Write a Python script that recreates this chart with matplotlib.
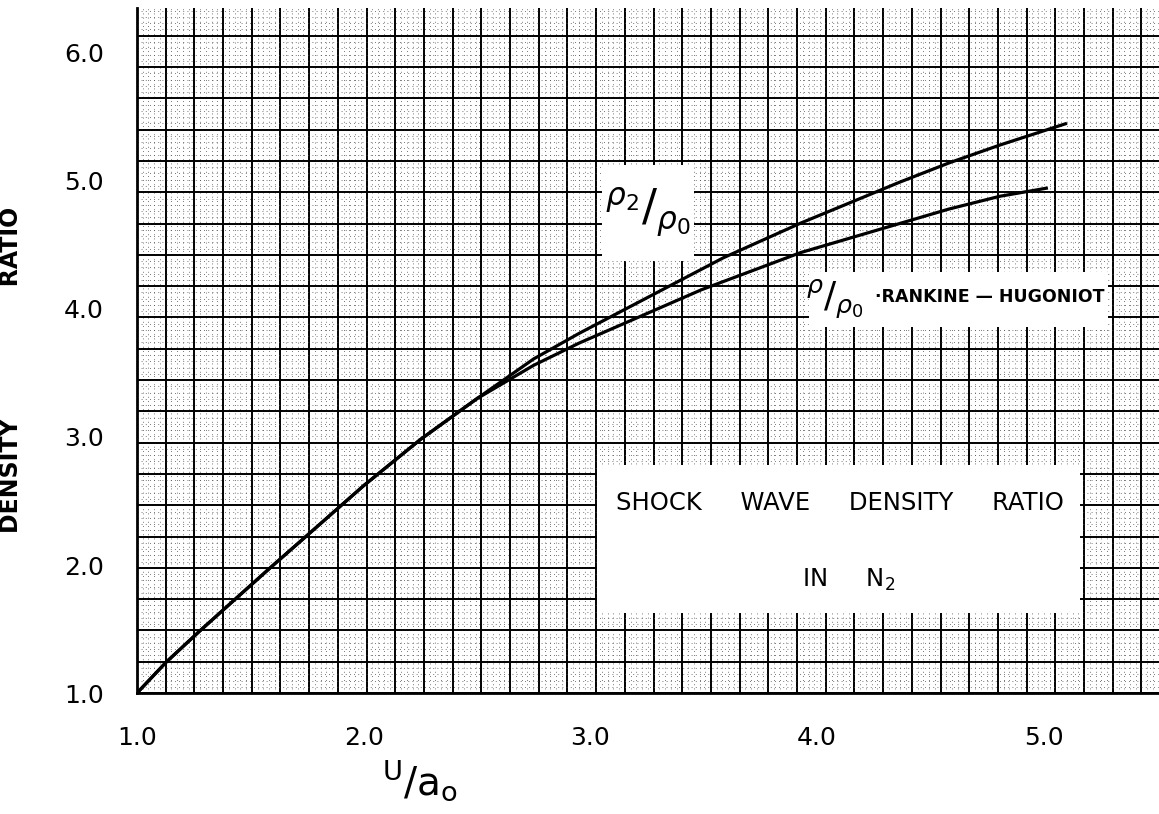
import numpy as np
import matplotlib
matplotlib.use("Agg")
import matplotlib.pyplot as plt
from matplotlib.patches import Rectangle

# values (U/a0 vs density ratio)
common_x = [1.0, 1.128, 1.274, 1.428, 1.592, 1.724, 2.0, 2.25, 2.5]
common_y = [1.0, 1.24, 1.48, 1.725, 1.985, 2.19, 2.62, 2.98, 3.30]

shock_x = [2.75, 2.951, 3.587, 3.927, 4.364, 4.581, 4.806, 5.102]
shock_y = [3.61, 3.81, 4.40, 4.67, 4.99, 5.14, 5.28, 5.45]

rh_x = [2.75, 2.951, 3.490, 3.927, 4.581, 4.806, 5.018]
rh_y = [3.56, 3.734, 4.15, 4.44, 4.78, 4.88, 4.945]

x_ticks = [1.0, 2.0, 3.0, 4.0, 5.0]
y_ticks = [1.0, 2.0, 3.0, 4.0, 5.0, 6.0]

plt.rcParams['font.family'] = ['DejaVu Sans']

fig = plt.figure(figsize=(11.59, 8.14), dpi=100)
rect = [0.1182, 0.1486, 0.8818, 0.8415]

# graph paper underneath, in pixel units of the plot area
paper = fig.add_axes(rect, zorder=0)
pw, ph = 1022, 685
paper.set_xlim(0, pw)
paper.set_ylim(0, ph)
cx, cy = 28.7, 31.3
paper.set_xticks(np.arange(0, pw, cx))
paper.set_yticks(np.arange(0, ph, cy))
paper.set_xticks(np.arange(0, pw, cx / 5), minor=True)
paper.set_yticks(np.arange(0, ph, cy / 5), minor=True)
paper.grid(which='major', color='black', lw=1.4)
paper.grid(which='minor', color='0.3', lw=0.6, ls=(0, (1, 4)))
paper.tick_params(which='both', length=0, labelbottom=False, labelleft=False)
for s in paper.spines.values():
    s.set_visible(False)

ax = fig.add_axes(rect, zorder=1)
ax.patch.set_visible(False)
ax.set_xlim(1.0, 5.508)
ax.set_ylim(1.0, 6.35)

# curves
ax.plot(common_x + shock_x, common_y + shock_y, color='black', lw=2.3,
        solid_capstyle='butt', solid_joinstyle='round')
ax.plot(common_x + rh_x, common_y + rh_y, color='black', lw=2.3,
        solid_capstyle='butt', solid_joinstyle='round')

ax.set_xticks(x_ticks)
ax.set_xticklabels(['1.0', '2.0', '3.0', '4.0', '5.0'])
ax.set_yticks(y_ticks)
ax.set_yticklabels(['1.0', '2.0', '3.0', '4.0', '5.0', '6.0'])
ax.tick_params(length=0, labelsize=18)
ax.tick_params(axis='x', pad=24)
ax.tick_params(axis='y', pad=24)
for side in ['top', 'right']:
    ax.spines[side].set_visible(False)
ax.spines['left'].set_linewidth(2)
ax.spines['bottom'].set_linewidth(2)

ax.set_ylabel('DENSITY                RATIO', fontsize=17, fontweight='bold')
ax.yaxis.set_label_coords(-0.1115, 0.4715)
ax.set_xlabel(r'$^{\mathsf{U}}/\mathsf{a_o}$', fontsize=28)
ax.xaxis.set_label_coords(0.277, -0.095)

# white label patches
def white_box(x, y, w, h):
    ax.add_patch(Rectangle((x, y), w, h, transform=ax.transAxes, facecolor='white',
                           edgecolor='none', zorder=2))

white_box(0.450, 0.117, 0.473, 0.216)
ax.text(0.688, 0.277, 'SHOCK     WAVE     DENSITY     RATIO', transform=ax.transAxes,
        ha='center', va='center', fontsize=17.5, zorder=3)
ax.text(0.696, 0.165, r'IN     N$_\mathsf{2}$', transform=ax.transAxes,
        ha='center', va='center', fontsize=17.5, zorder=3)

white_box(0.455, 0.631, 0.090, 0.140)
ax.text(0.500, 0.701, r'$^{\rho_2}/_{\rho_0}$', transform=ax.transAxes,
        ha='center', va='center', fontsize=32, zorder=3)

white_box(0.6575, 0.534, 0.2926, 0.080)
ax.text(0.683, 0.574, r'$^{\rho}/_{\rho_0}$', transform=ax.transAxes,
        ha='center', va='center', fontsize=26, zorder=3)
ax.text(0.722, 0.578, '·RANKINE — HUGONIOT', transform=ax.transAxes,
        ha='left', va='center', fontsize=12.5, fontweight='bold', zorder=3)

fig.savefig('out.png', dpi=100)
